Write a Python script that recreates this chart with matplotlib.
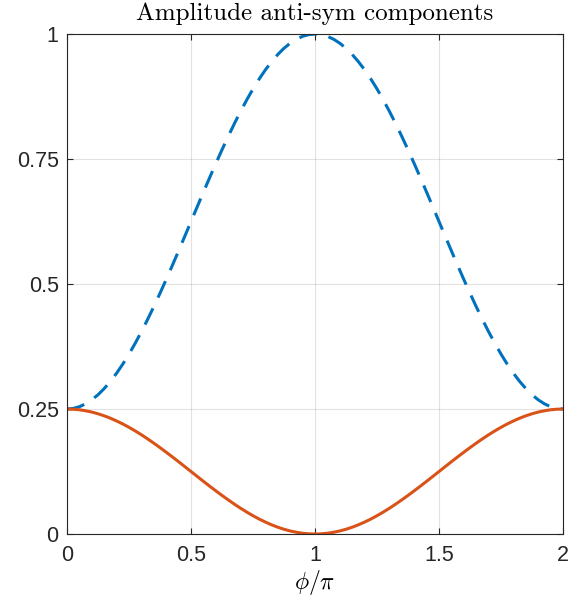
import matplotlib
matplotlib.use("Agg")
import matplotlib.pyplot as plt
import numpy as np

plt.rcParams["mathtext.fontset"] = "cm"
plt.rcParams["font.family"] = ["Liberation Sans", "DejaVu Sans"]

# phase in units of pi, sampled every 0.025
phi = np.linspace(0.0, 2.0, 81)

# dashed component (peaks at phi = pi)
amp_a = [0.2500, 0.2512, 0.2546, 0.2604, 0.2684, 0.2785, 0.2909, 0.3053, 0.3216, 0.3398,
         0.3598, 0.3815, 0.4046, 0.4291, 0.4548, 0.4815, 0.5091, 0.5375, 0.5663, 0.5956,
         0.6250, 0.6544, 0.6837, 0.7125, 0.7409, 0.7685, 0.7952, 0.8209, 0.8454, 0.8685,
         0.8902, 0.9102, 0.9284, 0.9447, 0.9591, 0.9715, 0.9816, 0.9896, 0.9954, 0.9988,
         1.0000,
         0.9988, 0.9954, 0.9896, 0.9816, 0.9715, 0.9591, 0.9447, 0.9284, 0.9102, 0.8902,
         0.8685, 0.8454, 0.8209, 0.7952, 0.7685, 0.7409, 0.7125, 0.6837, 0.6544, 0.6250,
         0.5956, 0.5663, 0.5375, 0.5091, 0.4815, 0.4548, 0.4291, 0.4046, 0.3815, 0.3598,
         0.3398, 0.3216, 0.3053, 0.2909, 0.2785, 0.2684, 0.2604, 0.2546, 0.2512, 0.2500]

# solid component (vanishes at phi = pi)
amp_b = [0.2500, 0.2496, 0.2485, 0.2465, 0.2439, 0.2405, 0.2364, 0.2316, 0.2261, 0.2201,
         0.2134, 0.2062, 0.1985, 0.1903, 0.1817, 0.1728, 0.1636, 0.1542, 0.1446, 0.1348,
         0.1250, 0.1152, 0.1054, 0.0958, 0.0864, 0.0772, 0.0683, 0.0597, 0.0515, 0.0438,
         0.0366, 0.0299, 0.0239, 0.0184, 0.0136, 0.0095, 0.0061, 0.0035, 0.0015, 0.0004,
         0.0000,
         0.0004, 0.0015, 0.0035, 0.0061, 0.0095, 0.0136, 0.0184, 0.0239, 0.0299, 0.0366,
         0.0438, 0.0515, 0.0597, 0.0683, 0.0772, 0.0864, 0.0958, 0.1054, 0.1152, 0.1250,
         0.1348, 0.1446, 0.1542, 0.1636, 0.1728, 0.1817, 0.1903, 0.1985, 0.2062, 0.2134,
         0.2201, 0.2261, 0.2316, 0.2364, 0.2405, 0.2439, 0.2465, 0.2485, 0.2496, 0.2500]

xticks = [0, 0.5, 1, 1.5, 2]
xtick_labels = ["0", "0.5", "1", "1.5", "2"]
yticks = [0, 0.25, 0.5, 0.75, 1]
ytick_labels = ["0", "0.25", "0.5", "0.75", "1"]

fig = plt.figure(figsize=(5.79, 5.98), dpi=100)
ax = fig.add_axes([0.1157, 0.107, 0.8567, 0.8361])

ax.plot(phi, amp_a, color="#0072BD", lw=2.2, linestyle=(0, (5.9, 3.9)))
ax.plot(phi, amp_b, color="#D95319", lw=2.2)

ax.set_xlim(0, 2)
ax.set_ylim(0, 1)
ax.set_xticks(xticks)
ax.set_xticklabels(xtick_labels)
ax.set_yticks(yticks)
ax.set_yticklabels(ytick_labels)
ax.tick_params(direction="in", length=4, width=0.8, colors="#262626",
               labelsize=15.5, top=True, right=True, pad=6)
ax.tick_params(axis="x", pad=8)
ax.grid(True, color="#262626", alpha=0.13, lw=0.8)
for s in ax.spines.values():
    s.set_color("#262626")
    s.set_linewidth(0.8)

ax.set_title("Amplitude anti-sym components", fontfamily="cmr10", fontsize=18, pad=10)
ax.set_xlabel(r"$\phi/\pi$", fontsize=17, labelpad=1)

fig.savefig("out.png", dpi=100)
